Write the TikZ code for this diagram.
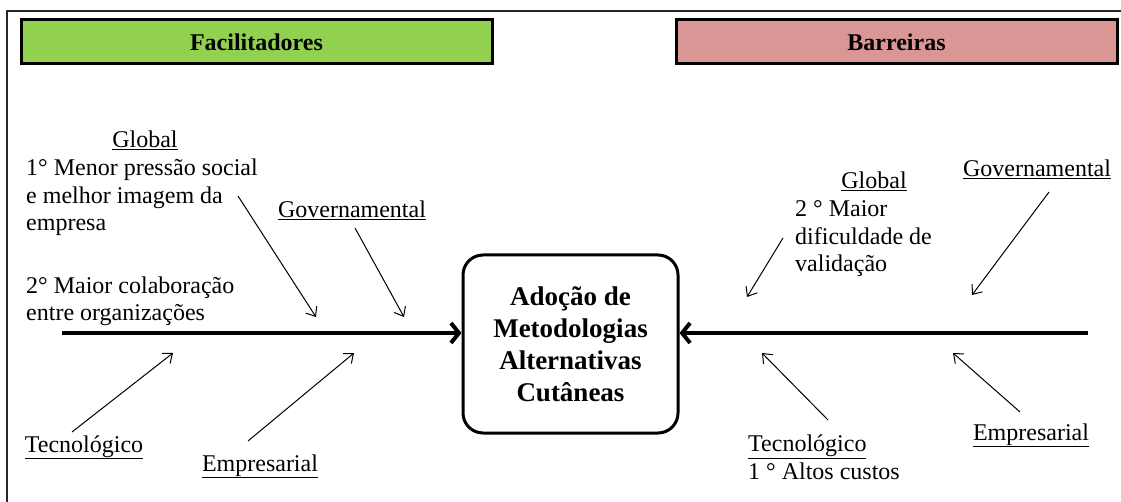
\documentclass[tikz,border=0pt]{standalone}
\usepackage{fontspec}
\setmainfont{Liberation Serif}
\usetikzlibrary{arrows.meta}
\definecolor{facgreen}{HTML}{92D050}
\definecolor{barpink}{HTML}{D99694}
\begin{document}
\begin{tikzpicture}[x=1pt,y=-1pt,
  lbl/.style={inner sep=0pt, font=\fontsize{24}{27.6}\selectfont},
  blk/.style={lbl, align=left, anchor=base west},
  hdr/.style={draw, line width=3pt, minimum height=44pt, inner sep=0pt, font=\fontsize{24}{27.6}\selectfont\bfseries},
  thinarrow/.style={line width=1pt, -{Straight Barb[length=8pt,width=13pt]}},
  spine/.style={line width=4pt, -{Straight Barb[length=8pt,width=20pt]}}]
\useasboundingbox (0,0) rectangle (1121,502);
% frame
\draw[line width=1.2pt, black!85] (7,502) -- (7,11) -- (1121,11);
% headers
\node[hdr, fill=facgreen, minimum width=471pt] (fac) at (256.5,42) {Facilitadores};
\node[hdr, fill=barpink, minimum width=441pt] (bar) at (896.5,42) {Barreiras};
% core
\node[draw, line width=3pt, rounded corners=20pt, minimum width=215pt, minimum height=178pt,
      align=center, inner sep=0pt, font=\fontsize{27}{32}\selectfont\bfseries] (core) at (570.5,344)
      {Adoção de\\Metodologias\\Alternativas\\Cutâneas};
% spines
\coordinate (lsp) at (62,333);
\coordinate (rsp) at (1088,333);
\draw[spine] (lsp) -- (lsp -| core.west);
\draw[spine] (rsp) -- (rsp -| core.east);
% left labels (multi-line blocks anchored at the baseline of their last line)
\node[lbl, anchor=base] (lglobal) at (145,148) {\underline{Global}};
\node[blk] (lg1) at (26,231) {1° Menor pressão social\\e melhor imagem da\\empresa};
\node[blk] (lg2) at (26,321) {2° Maior colaboração\\entre organizações};
\node[lbl, anchor=base] (lgov) at (352,218) {\underline{Governamental}};
\node[lbl, anchor=base] (ltec) at (84,452) {\underline{Tecnológico}};
\node[lbl, anchor=base] (lemp) at (260,471) {\underline{Empresarial}};
% right labels
\node[lbl, anchor=base] (rglobal) at (874,189) {\underline{Global}};
\node[blk] (rg2) at (795,272) {2 ° Maior\\dificuldade de\\validação};
\node[lbl, anchor=base] (rgov) at (1037,177) {\underline{Governamental}};
\node[blk] (rtec) at (748,479) {\underline{Tecnológico}\\1 ° Altos custos};
\node[lbl, anchor=base] (remp) at (1031,440) {\underline{Empresarial}};
% thin arrows
\coordinate (a1s) at (238,196); \coordinate (a1e) at (316,317);
\coordinate (a2s) at (355,228); \coordinate (a2e) at (404,317);
\coordinate (a3s) at (72,432);  \coordinate (a3e) at (173,353);
\coordinate (a4s) at (248,441); \coordinate (a4e) at (354,353);
\coordinate (b1s) at (783,238); \coordinate (b1e) at (747,297);
\coordinate (b2s) at (1049,192); \coordinate (b2e) at (972,295);
\coordinate (b3s) at (828,420); \coordinate (b3e) at (762,353);
\coordinate (b4s) at (1020,412); \coordinate (b4e) at (953,353);
\foreach \p in {a1,a2,a3,a4,b1,b2,b3,b4}{\draw[thinarrow] (\p s) -- (\p e);}
\end{tikzpicture}
\end{document}
